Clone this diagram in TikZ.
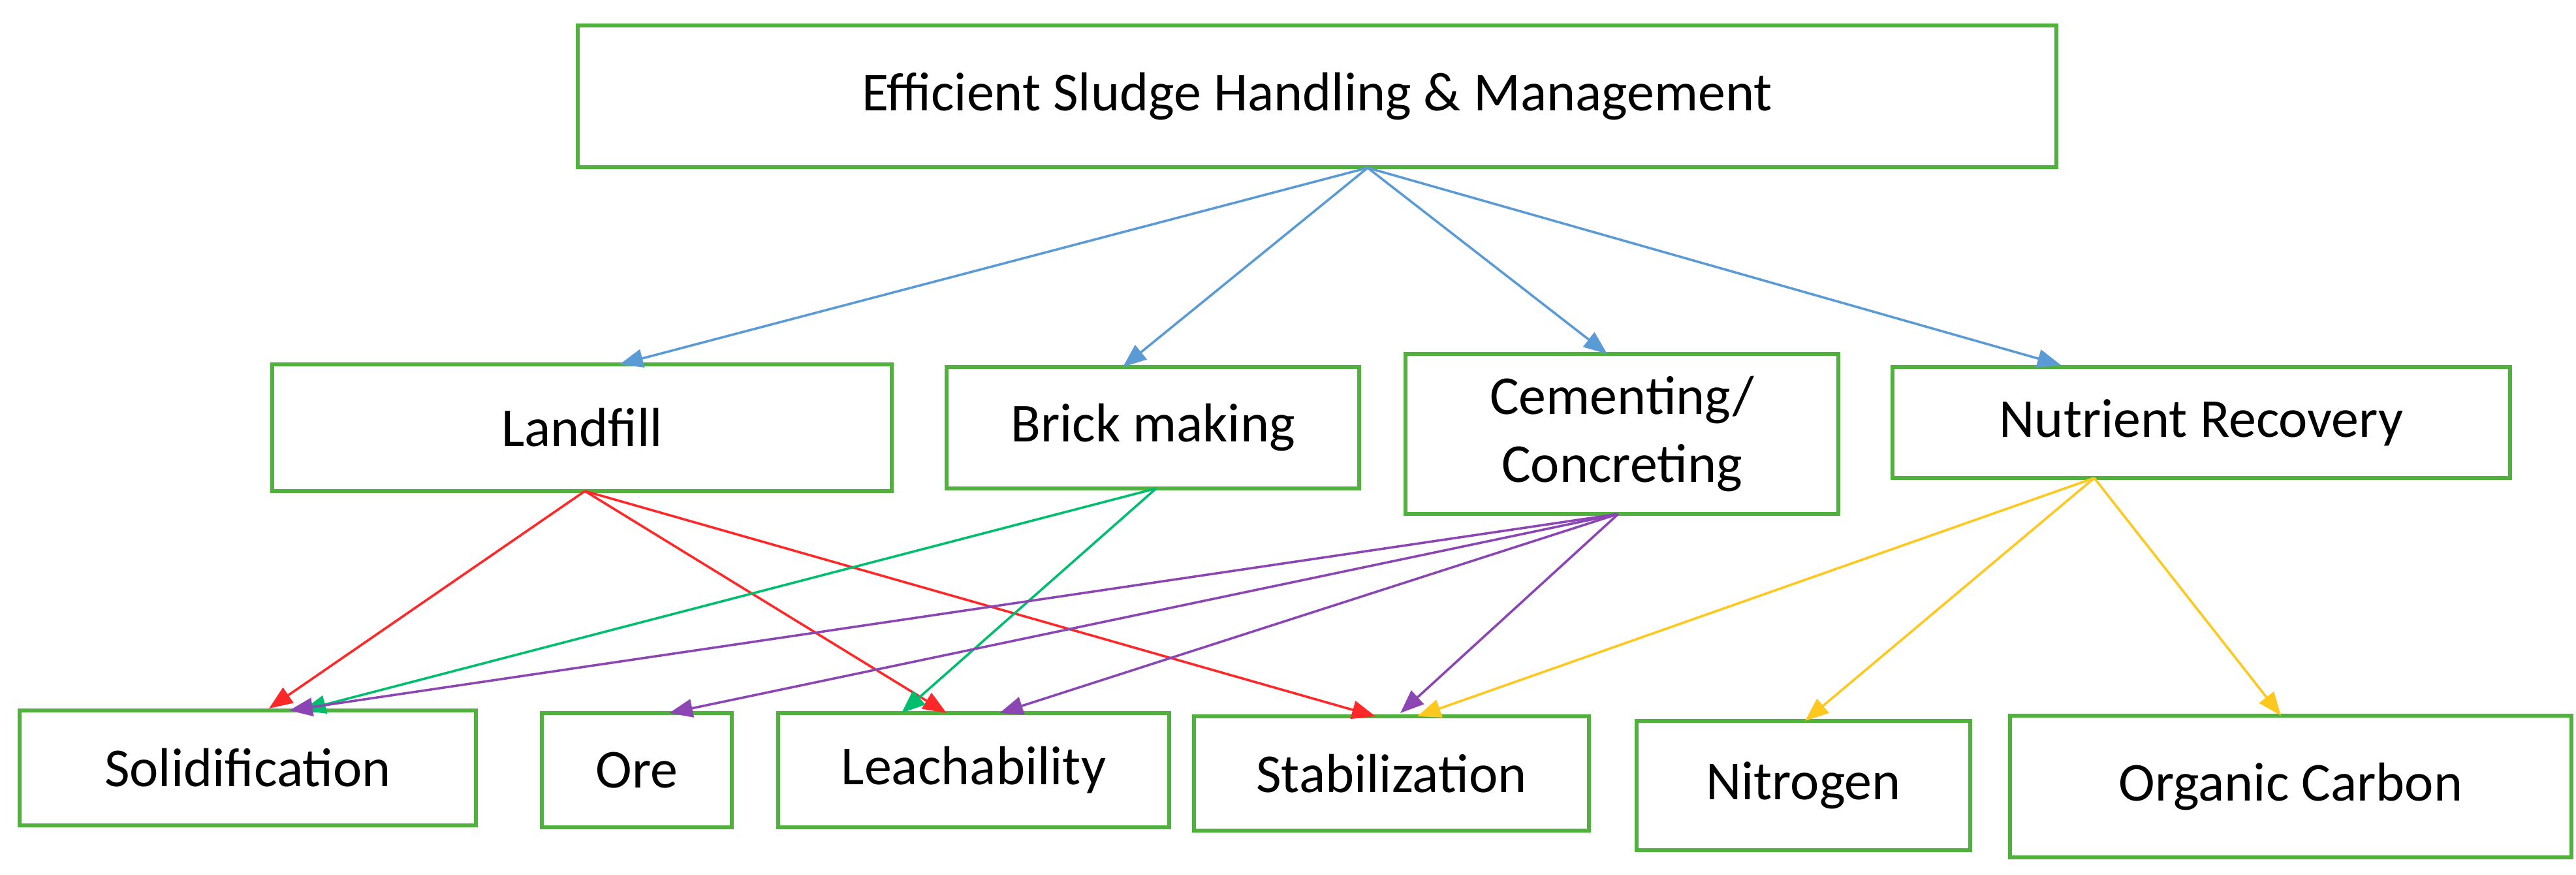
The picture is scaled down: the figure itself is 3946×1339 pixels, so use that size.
\documentclass[tikz,border=0pt]{standalone}
\usepackage{fontspec}
\setmainfont{Carlito}
\usetikzlibrary{arrows.meta}
\definecolor{bx}{RGB}{80,178,60}
\definecolor{cb}{RGB}{91,155,213}
\definecolor{cr}{RGB}{255,40,40}
\definecolor{cg}{RGB}{0,190,110}
\definecolor{cp}{RGB}{140,70,180}
\definecolor{cy}{RGB}{255,200,30}
\begin{document}
\begin{tikzpicture}[x=0.25pt,y=-0.25pt,
 box/.style={draw=bx,line width=1.6pt,inner sep=0,align=center,font=\fontsize{21}{26}\selectfont},
 ar/.style={line width=0.9pt,-{Triangle[length=9pt,width=7pt]}}]
\useasboundingbox (0,0) rectangle (3946,1339);
\newcommand\bx[6]{\node[box,minimum width={(#4-#2)*0.25pt},minimum height={(#5-#3)*0.25pt}] (#1) at ({(#2+#4)/2},{(#3+#5)/2}) {#6};}
\bx{top}{885}{39}{3150}{256}{Efficient Sludge Handling \& Management}
\bx{lf}{417}{558}{1366}{752}{Landfill}
\bx{bm}{1450}{562}{2082}{748}{Brick making}
\bx{cc}{2153}{542}{2816}{787}{Cementing/\\Concreting}
\bx{nr}{2899}{562}{3845}{732}{Nutrient Recovery}
\bx{so}{30}{1088}{729}{1264}{Solidification}
\bx{ore}{830}{1092}{1121}{1267}{Ore}
\bx{le}{1192}{1092}{1791}{1267}{Leachability}
\bx{st}{1829}{1097}{2434}{1272}{Stabilization}
\bx{ni}{2507}{1104}{3018}{1302}{Nitrogen}
\bx{oc}{3079}{1096}{3939}{1313}{Organic Carbon}
\coordinate (t0) at (2095,257);
\coordinate (l0) at (896,752);
\coordinate (b0) at (1771,748);
\coordinate (c0) at (2479,787);
\coordinate (n0) at (3208,732);
\draw[ar,cb] (t0) -- (949,558);
\draw[ar,cb] (t0) -- (1720,562);
\draw[ar,cb] (t0) -- (2462,542);
\draw[ar,cb] (t0) -- (3157,559);
\draw[ar,cr] (l0) -- (412,1085);
\draw[ar,cr] (l0) -- (1450,1092);
\draw[ar,cr] (l0) -- (2107,1097);
\draw[ar,cg] (b0) -- (463,1088);
\draw[ar,cg] (b0) -- (1381,1092);
\draw[ar,cp] (c0) -- (443,1088);
\draw[ar,cp] (c0) -- (1025,1092);
\draw[ar,cp] (c0) -- (1531,1092);
\draw[ar,cp] (c0) -- (2145,1092);
\draw[ar,cy] (n0) -- (2171,1097);
\draw[ar,cy] (n0) -- (2765,1104);
\draw[ar,cy] (n0) -- (3494,1096);
\end{tikzpicture}
\end{document}
